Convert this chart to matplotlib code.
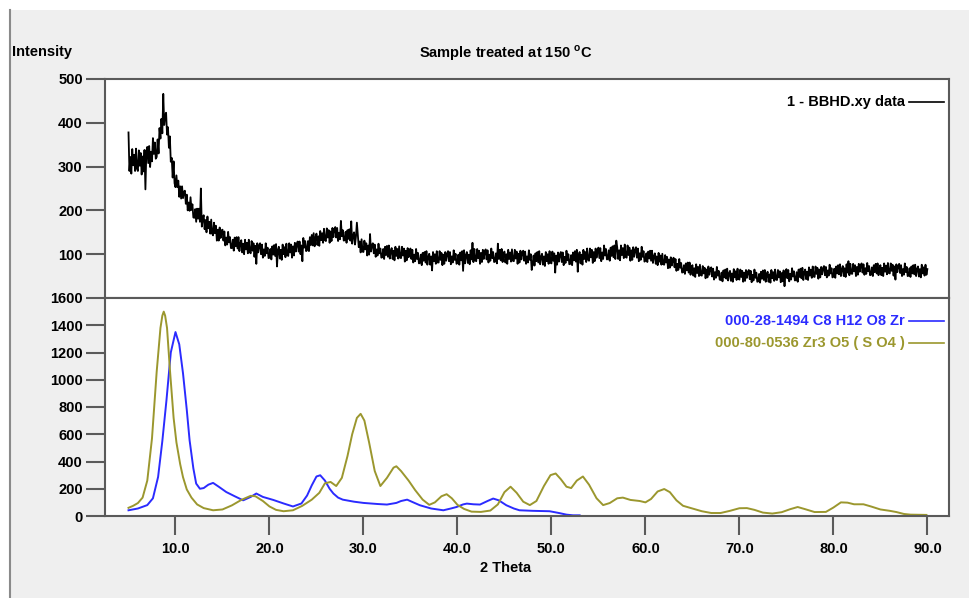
import numpy as np
import matplotlib
matplotlib.use('Agg')
import matplotlib.pyplot as plt
from matplotlib.lines import Line2D
from matplotlib.patches import Rectangle

plt.rcParams['font.family'] = ['Liberation Sans', 'DejaVu Sans']
plt.rcParams['font.weight'] = 'bold'

# measured pattern, 2theta 5..90 in 0.1 deg steps (one row per degree, last value at 90)
intensity = [
    378, 290, 322, 284, 340, 303, 327, 290, 341, 295,   # 5
    290, 337, 302, 331, 282, 323, 289, 338, 248, 335,   # 6
    345, 308, 347, 299, 334, 312, 365, 329, 355, 318,   # 7
    322, 362, 330, 388, 364, 409, 376, 466, 395, 417,   # 8
    423, 373, 390, 343, 369, 311, 320, 275, 312, 262,   # 9
    253, 280, 253, 268, 231, 255, 227, 255, 228, 243,   # 10
    245, 215, 236, 200, 218, 199, 230, 201, 214, 184,   # 11
    183, 203, 174, 204, 181, 204, 174, 250, 163, 182,   # 12
    189, 157, 178, 150, 186, 159, 174, 147, 179, 147,   # 13
    143, 172, 148, 165, 131, 156, 131, 161, 137, 154,   # 14
    156, 131, 152, 120, 138, 122, 151, 127, 139, 114,   # 15
    114, 133, 108, 138, 118, 139, 113, 139, 107, 125,   # 16
    132, 104, 124, 100, 133, 111, 126, 102, 133, 105,   # 17
    102, 130, 108, 125, 94, 119, 78, 125, 104, 120,     # 18
    125, 100, 122, 92, 111, 96, 125, 102, 115, 91,      # 19
    92, 112, 88, 118, 99, 121, 96, 123, 72, 110,        # 20
    117, 90, 110, 87, 122, 100, 116, 93, 124, 98,       # 21
    96, 125, 104, 122, 92, 118, 97, 126, 106, 123,      # 22
    129, 106, 129, 100, 120, 84, 137, 115, 130, 107,    # 23
    109, 130, 107, 139, 121, 144, 120, 148, 118, 138,   # 24
    147, 121, 141, 119, 153, 132, 148, 126, 158, 132,   # 25
    130, 159, 138, 155, 126, 152, 130, 160, 139, 157,   # 26
    162, 138, 160, 130, 149, 134, 176, 141, 155, 131,   # 27
    132, 151, 126, 155, 135, 157, 131, 175, 124, 142,   # 28
    150, 122, 140, 172, 144, 116, 129, 104, 134, 106,   # 29
    105, 131, 111, 125, 97, 120, 99, 146, 106, 121,     # 30
    125, 102, 122, 94, 111, 97, 124, 102, 113, 92,      # 31
    93, 112, 89, 117, 98, 119, 94, 120, 90, 107,        # 32
    114, 89, 108, 86, 117, 96, 112, 90, 118, 92,        # 33
    91, 117, 97, 113, 83, 108, 86, 114, 93, 108,        # 34
    113, 89, 110, 81, 99, 84, 112, 89, 103, 79,         # 35
    80, 99, 75, 103, 85, 105, 81, 107, 76, 94,          # 36
    101, 76, 95, 63, 105, 84, 100, 78, 107, 81,         # 37
    81, 107, 87, 103, 75, 99, 78, 105, 85, 101,         # 38
    107, 84, 105, 77, 95, 81, 109, 87, 101, 78,         # 39
    80, 99, 76, 104, 86, 107, 62, 109, 79, 97,          # 40
    105, 80, 99, 77, 109, 88, 126, 82, 112, 86,         # 41
    84, 112, 91, 108, 78, 103, 82, 110, 89, 106,        # 42
    111, 88, 109, 81, 99, 85, 113, 91, 105, 82,         # 43
    83, 102, 79, 124, 89, 110, 86, 112, 82, 100,        # 44
    106, 81, 100, 78, 110, 89, 104, 83, 111, 85,        # 45
    84, 110, 90, 106, 78, 101, 81, 108, 88, 104,        # 46
    108, 85, 106, 78, 95, 81, 109, 87, 100, 64,         # 47
    78, 97, 74, 102, 84, 105, 81, 107, 77, 94,          # 48
    101, 76, 95, 73, 105, 84, 100, 78, 107, 81,         # 49
    79, 106, 85, 102, 58, 97, 76, 104, 83, 100,         # 50
    105, 82, 104, 75, 94, 80, 108, 86, 100, 77,         # 51
    78, 98, 75, 104, 86, 107, 83, 110, 60, 98,          # 52
    105, 79, 99, 76, 110, 89, 105, 82, 113, 87,         # 53
    85, 113, 93, 110, 80, 105, 84, 113, 92, 109,        # 54
    115, 91, 114, 84, 104, 89, 120, 97, 112, 88,        # 55
    89, 109, 85, 115, 96, 118, 93, 120, 89, 131,        # 56
    116, 89, 109, 86, 120, 98, 114, 91, 122, 94,        # 57
    92, 120, 98, 115, 85, 109, 87, 116, 94, 110,        # 58
    116, 92, 113, 84, 102, 87, 117, 94, 107, 83,        # 59
    86, 102, 82, 106, 90, 108, 85, 108, 80, 95,         # 60
    102, 78, 95, 75, 103, 83, 97, 76, 101, 77,          # 61
    76, 98, 81, 94, 68, 88, 69, 93, 74, 87,             # 62
    92, 70, 89, 62, 78, 64, 89, 69, 80, 58,             # 63
    59, 75, 55, 79, 63, 81, 58, 81, 53, 69,             # 64
    75, 51, 68, 48, 77, 57, 71, 50, 76, 52,             # 65
    51, 73, 56, 69, 45, 65, 47, 72, 53, 67,             # 66
    70, 49, 67, 42, 59, 46, 71, 51, 62, 42,             # 67
    41, 58, 38, 63, 47, 65, 44, 67, 40, 56,             # 68
    62, 39, 56, 37, 66, 47, 61, 41, 67, 44,             # 69
    42, 65, 48, 62, 37, 58, 39, 64, 46, 60,             # 70
    64, 43, 62, 36, 53, 40, 65, 46, 58, 37,             # 71
    38, 55, 35, 60, 44, 63, 41, 64, 37, 53,             # 72
    60, 37, 54, 35, 64, 45, 59, 39, 65, 42,             # 73
    41, 64, 47, 61, 36, 57, 38, 63, 27, 60,             # 74
    66, 45, 64, 38, 55, 42, 68, 49, 61, 40,             # 75
    41, 59, 37, 65, 48, 67, 45, 69, 41, 59,             # 76
    65, 43, 60, 41, 70, 51, 65, 46, 72, 49,             # 77
    48, 72, 55, 69, 44, 65, 47, 71, 54, 68,             # 78
    73, 52, 71, 47, 63, 51, 76, 56, 68, 47,             # 79
    49, 67, 46, 72, 56, 75, 54, 77, 50, 66,             # 80
    73, 50, 68, 48, 77, 58, 84, 52, 78, 56,             # 81
    55, 78, 61, 75, 50, 71, 53, 78, 60, 74,             # 82
    79, 58, 77, 53, 68, 55, 80, 61, 73, 52,             # 83
    53, 70, 50, 75, 59, 78, 56, 79, 52, 68,             # 84
    75, 52, 69, 50, 79, 60, 74, 54, 80, 57,             # 85
    56, 79, 62, 76, 51, 72, 42, 77, 59, 73,             # 86
    78, 57, 75, 50, 66, 53, 79, 59, 71, 50,             # 87
    51, 68, 48, 72, 56, 75, 54, 76, 50, 66,             # 88
    72, 49, 66, 47, 76, 56, 70, 51, 76, 53,             # 89
    66,                                                 # 90
]
two_theta = np.linspace(5, 90, len(intensity))

# reference pattern 000-28-1494 C8 H12 O8 Zr
ref1_x = [5.0, 6.0, 7.0, 7.6, 8.15, 8.6, 9.04, 9.5, 10.0, 10.4, 10.8, 11.2, 11.5,
          11.9, 12.2, 12.6, 13.0, 13.5, 14.0, 14.6, 15.4, 16.3, 17.2, 18.0, 18.6,
          19.3, 20.4, 21.5, 22.5, 23.4, 24.0, 24.5, 25.0, 25.4, 25.9, 26.4, 26.8,
          27.3, 27.8, 29.0, 30.0, 31.5, 32.5, 33.5, 34.0, 34.65, 35.3, 36.0, 37.2,
          38.5, 39.3, 39.9, 40.6, 41.0, 41.7, 42.4, 43.2, 43.8, 44.4, 45.2, 46.0,
          46.6, 48.0, 49.8, 50.8, 51.6, 52.3, 53.0]
ref1_y = [42, 55, 80, 130, 287, 550, 850, 1200, 1350, 1260, 1047, 780, 556,
          350, 238, 200, 205, 230, 243, 215, 176, 145, 115, 140, 165,
          140, 118, 92, 70, 92, 150, 225, 290, 299, 260, 200, 165,
          135, 120, 105, 96, 88, 84, 96, 110, 120, 100, 79, 55,
          42, 55, 66, 85, 91, 86, 84, 110, 128, 115, 79, 55,
          42, 38, 35, 22, 10, 5, 5]

# reference pattern 000-80-0536 Zr3 O5 ( S O4 )
ref2_x = [5.0, 5.5, 6.0, 6.5, 7.0, 7.5, 8.0, 8.4, 8.6, 8.75, 8.9, 9.1, 9.4, 9.8, 10.1,
          10.5, 10.8, 11.2, 11.7, 12.3, 13.0, 14.0, 15.0, 16.0, 17.0, 18.0, 18.5,
          19.3, 20.0, 20.7, 21.5, 22.5, 23.5, 24.5, 25.3, 25.9, 26.5, 27.1, 27.7,
          28.3, 28.8, 29.3, 29.7, 30.1, 30.6, 31.2, 31.8, 32.5, 33.2, 33.5, 34.0,
          34.8, 35.5, 36.3, 37.0, 37.6, 38.3, 38.85, 39.4, 40.0, 40.7, 41.5, 42.5,
          43.5, 44.3, 45.0, 45.65, 46.3, 47.0, 47.7, 48.4, 49.2, 49.9, 50.45, 51.0,
          51.6, 52.1, 52.7, 53.35, 54.0, 54.8, 55.5, 56.2, 57.0, 57.6, 58.4, 59.4,
          60.0, 60.6, 61.3, 62.0, 62.6, 63.3, 64.0, 65.0, 66.0, 67.0, 68.0, 69.0,
          70.0, 70.8, 71.6, 72.5, 73.5, 74.5, 75.4, 76.2, 77.0, 78.0, 79.2, 80.0,
          80.8, 81.5, 82.2, 83.2, 84.0, 85.0, 86.0, 86.7, 87.5, 88.2, 89.9]
ref2_y = [60, 75, 95, 135, 260, 570, 1060, 1380, 1470, 1500, 1470, 1380, 1080, 720, 540,
          380, 285, 195, 135, 85, 58, 42, 48, 78, 118, 148, 145,
          110, 70, 45, 35, 42, 75, 120, 170, 240, 250, 220, 280,
          440, 600, 720, 750, 700, 540, 330, 220, 280, 355, 365, 330,
          260, 190, 120, 82, 100, 145, 160, 130, 82, 52, 32, 30,
          40, 85, 175, 215, 170, 105, 80, 110, 220, 300, 312, 270,
          215, 205, 260, 290, 230, 130, 80, 95, 130, 135, 118, 110,
          100, 125, 180, 198, 175, 115, 75, 55, 35, 22, 22, 38,
          57, 58, 45, 25, 18, 28, 50, 66, 50, 29, 30, 62,
          100, 98, 86, 86, 70, 48, 38, 29, 15, 10, 8]

x_ticks = [10, 20, 30, 40, 50, 60, 70, 80, 90]
top_ticks = [100, 200, 300, 400, 500]
bottom_ticks = [0, 200, 400, 600, 800, 1000, 1200, 1400, 1600]

blue = '#2b2bff'
olive = '#9b972e'
frame = '#5a5a5a'
W, H = 969, 598

fig = plt.figure(figsize=(W / 100, H / 100), dpi=100, facecolor='white')
fig.patches.append(Rectangle((10 / W, 0), 1, 1 - 10 / H, transform=fig.transFigure,
                             facecolor='#efefef', edgecolor='none', zorder=-10))
fig.lines.append(Line2D([10 / W, 10 / W], [0, 1 - 10 / H], transform=fig.transFigure,
                        color='#8a8a8a', lw=1.5))

ax1 = fig.add_axes([105 / W, 1 - 298 / H, 844 / W, 219 / H])
ax2 = fig.add_axes([105 / W, 1 - 516 / H, 844 / W, 218 / H])

ax1.plot(two_theta, intensity, color='black', lw=1.3)
ax2.plot(ref1_x, ref1_y, color=blue, lw=1.4)
ax2.plot(ref2_x, ref2_y, color=olive, lw=1.4)

for ax in (ax1, ax2):
    ax.set_xlim(2.5, 92.3)
    ax.set_facecolor('white')
    for s in ax.spines.values():
        s.set_color(frame)
        s.set_linewidth(1.5)
    ax.tick_params(axis='y', direction='out', length=14, width=1.5, color=frame,
                   labelsize=10.5, pad=2)

ax1.set_ylim(0, 500)
ax1.set_yticks(top_ticks)
ax1.set_xticks([])
ax2.set_ylim(0, 1600)
ax2.set_yticks(bottom_ticks)
ax2.set_xticks(x_ticks)
ax2.set_xticklabels(['%.1f' % v for v in x_ticks], fontweight='bold')
ax2.tick_params(axis='x', direction='out', length=14, width=1.5, color=frame,
                labelsize=10.5, pad=5)
ax1.set_yticklabels([str(v) for v in top_ticks], fontweight='bold')
ax2.set_yticklabels([str(v) for v in bottom_ticks], fontweight='bold')

fig.text(12 / W, 1 - 52 / H, 'Intensity', fontsize=10.5, fontweight='bold',
         ha='left', va='center')
fig.text(506 / W, 1 - 53 / H, r'Sample treated at 150 $^\mathregular{o}$C',
         fontsize=10.5, fontweight='bold', ha='center', va='center')
fig.text(506 / W, 1 - 568 / H, '2 Theta', fontsize=10.5, fontweight='bold',
         ha='center', va='center')

# legend entries: label then a short line sample on the right
legend = [('1 - BBHD.xy data', 'black', 102),
          ('000-28-1494 C8 H12 O8 Zr', blue, 321),
          ('000-80-0536 Zr3 O5 ( S O4 )', olive, 343)]
for name, col, ypix in legend:
    fig.text(905 / W, 1 - ypix / H, name, color=col, fontsize=10.5,
             fontweight='bold', ha='right', va='center')
    fig.lines.append(Line2D([909 / W, 944 / W], [1 - ypix / H, 1 - ypix / H],
                            transform=fig.transFigure, color=col, lw=1.2))

fig.savefig('out.png', dpi=100, facecolor=fig.get_facecolor())
